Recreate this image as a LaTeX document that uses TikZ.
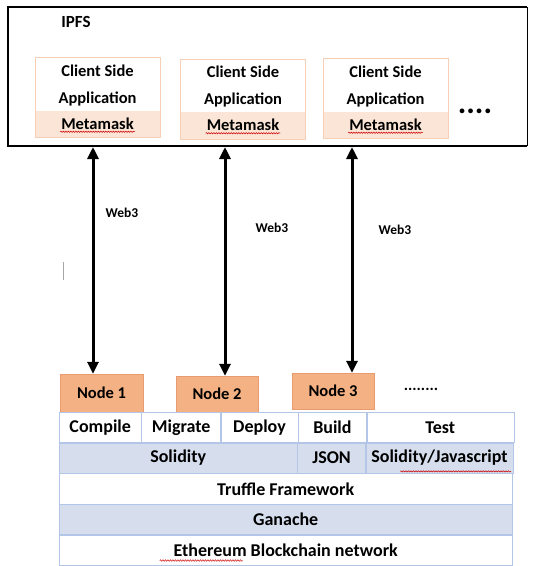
\documentclass[tikz,border=0pt]{standalone}
\usepackage{fontspec}
\setmainfont{Carlito}
\usepackage{tikz}
\usetikzlibrary{positioning,arrows.meta,decorations.pathmorphing}
\definecolor{metaband}{HTML}{FBE5D6}
\definecolor{metaline}{HTML}{F6CFB4}
\definecolor{nodefill}{HTML}{F4B183}
\definecolor{nodeline}{HTML}{E99A6E}
\definecolor{rowblue}{HTML}{D6DEEE}
\definecolor{rowline}{HTML}{B4C6E7}
\tikzstyle{client}=[rectangle, draw=metaline, thin, minimum width=125pt, minimum height=80pt,
	path picture={\fill[metaband] (path picture bounding box.south west) rectangle ([yshift=27pt]path picture bounding box.south east);}]
\tikzstyle{ctxt}=[font=\fontsize{16.5}{27}\selectfont\bfseries, align=center, inner sep=1pt]
\tikzstyle{nodebox}=[rectangle, draw=nodeline, fill=nodefill, inner sep=0pt, font=\fontsize{16.5}{18}\selectfont\bfseries]
\tikzstyle{cell}=[rectangle, draw=rowline, thin, minimum height=30.3pt, inner sep=0pt, anchor=north west, font=\fontsize{18}{20}\selectfont\bfseries]
\tikzstyle{bcell}=[cell, fill=rowblue]
\tikzstyle{web}=[>={Triangle[length=12pt,width=11pt]}, <->, line width=3pt]
\tikzstyle{webtxt}=[font=\fontsize{13.5}{15}\selectfont\bfseries]
\tikzstyle{squig}=[red!80!black, line width=0.5pt, decorate, decoration={snake, amplitude=0.7pt, segment length=2.5pt}]

\begin{document}
\begin{tikzpicture}[x=1pt,y=-1pt,node distance=0pt and 0pt]
			\useasboundingbox (0,0) rectangle (533,566);

			% IPFS frame
			\draw[line width=2.5pt] (527,7) -- (8,7) -- (8,146) -- (527,146);
			\draw[thin] (527,7) -- (527,146);
			\node[font=\fontsize{17}{18}\selectfont\bfseries] (ipfs) at (76,22) {IPFS};

			\node[client] (client1) at (97.5,97.5) {};
			\node[client] (client2) at (243,99) {};
			\node[client] (client3) at (385.5,98.5) {};
			\node[ctxt] (app1) at ([yshift=12pt]client1) {Client Side\\Application};
			\node[ctxt] (app2) at ([yshift=12pt]client2) {Client Side\\Application};
			\node[ctxt] (app3) at ([yshift=12pt]client3) {Client Side\\Application};
			\node[ctxt] (mm1) at ([yshift=-26pt]client1) {Metamask};
			\node[ctxt] (mm2) at ([yshift=-26pt]client2) {Metamask};
			\node[ctxt] (mm3) at ([yshift=-26pt]client3) {Metamask};
			\draw[squig] ([yshift=-2.5pt]mm1.base west) -- ([yshift=-2.5pt]mm1.base east);
			\draw[squig] ([yshift=-2.5pt]mm2.base west) -- ([yshift=-2.5pt]mm2.base east);
			\draw[squig] ([yshift=-2.5pt]mm3.base west) -- ([yshift=-2.5pt]mm3.base east);
			\node[anchor=base, font=\fontsize{32}{32}\selectfont\bfseries] (moreclients) at (475,113) {....};

			% nodes
			\node[nodebox, minimum width=83pt, minimum height=38pt] (node1) at (101.5,393) {Node 1};
			\node[nodebox, minimum width=82pt, minimum height=36pt] (node2) at (217,394) {Node 2};
			\node[nodebox, minimum width=82pt, minimum height=36pt] (node3) at (333,391) {Node 3};
			\node[anchor=base, font=\fontsize{16}{18}\selectfont\bfseries] (morenodes) at (421,390) {........};

			% table
			\node[cell, minimum width=82pt] (compile) at (59,412) {Compile};
			\node[cell, minimum width=79pt, right=0pt of compile] (migrate) {Migrate};
			\node[cell, minimum width=77pt, right=0pt of migrate] (deploy) {Deploy};
			\node[cell, minimum width=68pt, right=0pt of deploy] (build) {Build};
			\node[cell, minimum width=147pt, right=0pt of build] (test) {Test};
			\node[bcell, minimum width=238pt] (solidity) at (compile.south west) {Solidity};
			\node[bcell, minimum width=68pt, right=0pt of solidity] (json) {JSON};
			\node[bcell, minimum width=147pt, right=0pt of json] (soljs) {Solidity/Javascript};
			\node[cell, minimum width=453pt] (truffle) at (solidity.south west) {Truffle Framework};
			\node[bcell, minimum width=453pt] (ganache) at (truffle.south west) {Ganache};
			\node[cell, minimum width=453pt] (ethereum) at (ganache.south west) {Ethereum Blockchain network};
			\draw[squig] ([xshift=-113pt,yshift=2pt]soljs.south east) -- ([xshift=-2pt,yshift=2pt]soljs.south east);
			\draw[squig] ([xshift=-126pt,yshift=5pt]ethereum.south) -- ([xshift=-43pt,yshift=5pt]ethereum.south);

			% web3 links
			\coordinate (top1) at (93,147);
			\coordinate (top2) at (225,147);
			\coordinate (top3) at (352,147);
			\draw[web] (top1) -- (top1 |- node1.north);
			\draw[web] (top2) -- (top2 |- node2.north);
			\draw[web] (top3) -- (top3 |- node3.north);
			\node[webtxt] (w1) at (122,213) {Web3};
			\node[webtxt] (w2) at (272,228) {Web3};
			\node[webtxt] (w3) at (395,230) {Web3};
			\draw[gray!70, thin] (63,262) -- (63,280);
		\end{tikzpicture}
\end{document}
